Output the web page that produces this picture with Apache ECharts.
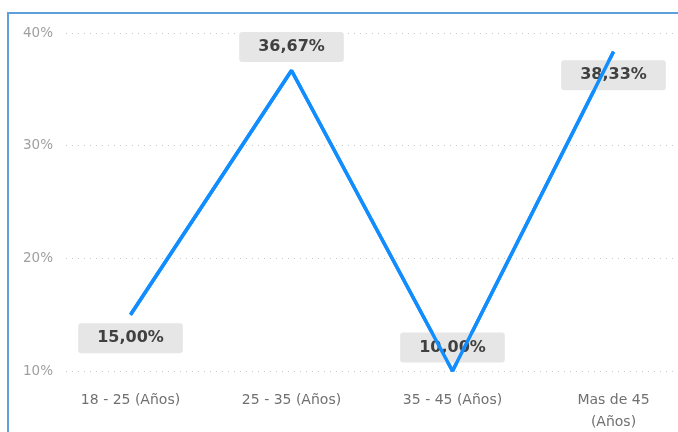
<!DOCTYPE html>
<html>
<head>
<meta charset="utf-8">
<script src="https://cdn.jsdelivr.net/npm/echarts@6/dist/echarts.min.js"></script>
<style>
  html, body { margin: 0; padding: 0; background: #fff; }
  #chart { width: 678px; height: 432px; }
</style>
</head>
<body>
<div id="chart"></div>
<script>
// Age groups and their share of respondents (%)
const categories = ['18 - 25 (Años)', '25 - 35 (Años)', '35 - 45 (Años)', 'Mas de 45\n(Años)'];
const shares = [15.00, 36.67, 10.00, 38.33];
const yTicks = [10, 20, 30, 40];

const fmtPct = v => v.toFixed(2).replace('.', ',') + '%';
const labelSide = ['bottom', 'top', 'top', 'bottom'];
const LINE_BLUE = '#118DFF';

const chart = echarts.init(document.getElementById('chart'));
chart.setOption({
  backgroundColor: '#fff',
  animation: false,
  graphic: [{
    type: 'rect',
    shape: { x: 8, y: 13, width: 720, height: 460 },
    style: { fill: 'none', stroke: '#5f9fdc', lineWidth: 2 },
    silent: true
  }],
  grid: [
    // value grid: tick labels and dotted guide lines
    { left: 66, right: 0, top: 33, bottom: 61, containLabel: false, outerBoundsMode: 'none' },
    // plot grid: the line and the category labels (last band runs past the edge)
    { left: 50, width: 644, top: 33, bottom: 61, containLabel: false, outerBoundsMode: 'none' }
  ],
  xAxis: [
    { type: 'category', gridIndex: 0, data: categories, show: false },
    {
      type: 'category', gridIndex: 1, data: categories,
      axisLine: { show: false }, axisTick: { show: false },
      axisLabel: {
        color: '#707070', fontSize: 14, fontFamily: 'DejaVu Sans',
        margin: 18, lineHeight: 22, interval: 0
      }
    }
  ],
  yAxis: [
    {
      type: 'value', gridIndex: 0,
      min: yTicks[0], max: yTicks[yTicks.length - 1], interval: 10,
      axisLine: { show: false }, axisTick: { show: false },
      axisLabel: {
        color: '#a0a0a0', fontSize: 13.5, fontFamily: 'DejaVu Sans', margin: 13,
        formatter: v => v + '%'
      },
      splitLine: { lineStyle: { color: '#c8c8c8', type: [1, 5], width: 1 } }
    },
    {
      type: 'value', gridIndex: 1,
      min: yTicks[0], max: yTicks[yTicks.length - 1], interval: 10,
      show: false, splitLine: { show: false }
    }
  ],
  series: [
    {
      // value badges (drawn underneath the line)
      type: 'line',
      xAxisIndex: 1, yAxisIndex: 1,
      data: shares.map((v, i) => ({ value: v, label: { position: labelSide[i] } })),
      symbol: 'circle', symbolSize: 1, showSymbol: true,
      lineStyle: { color: LINE_BLUE, width: 3.5 },
      itemStyle: { color: LINE_BLUE },
      z: 2,
      label: {
        show: true,
        distance: 8,
        formatter: p => fmtPct(p.value),
        color: '#404040', fontSize: 16, fontWeight: 'bold', fontFamily: 'DejaVu Sans',
        lineHeight: 16,
        backgroundColor: '#e6e6e6', borderRadius: 3, padding: [7, 19]
      }
    },
    {
      // the line itself, on top of the badges
      type: 'line',
      xAxisIndex: 1, yAxisIndex: 1,
      data: shares,
      symbol: 'none',
      lineStyle: { color: LINE_BLUE, width: 3.5 },
      z: 5,
      silent: true
    }
  ]
});
</script>
</body>
</html>
